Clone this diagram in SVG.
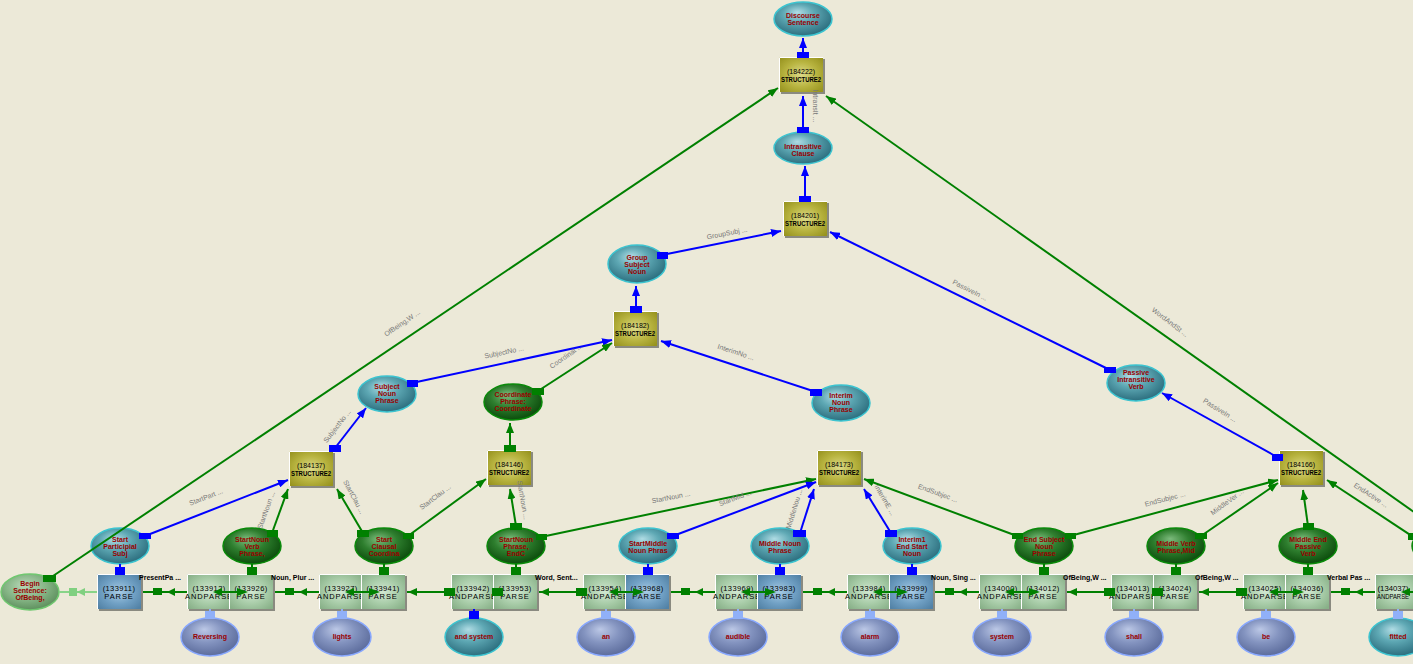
<svg xmlns="http://www.w3.org/2000/svg" width="1413" height="664" viewBox="0 0 1413 664">
<defs>
<radialGradient id="gOl" cx="0.5" cy="0.5" r="0.65"><stop offset="0" stop-color="#DCDA88"/><stop offset="0.55" stop-color="#B8B440"/><stop offset="1" stop-color="#989420"/></radialGradient>
<radialGradient id="gGb" cx="0.5" cy="0.5" r="0.65"><stop offset="0" stop-color="#D2E8D2"/><stop offset="0.55" stop-color="#A8CCA8"/><stop offset="1" stop-color="#88B088"/></radialGradient>
<radialGradient id="gBb" cx="0.5" cy="0.5" r="0.65"><stop offset="0" stop-color="#A8CCE6"/><stop offset="0.55" stop-color="#70A0C4"/><stop offset="1" stop-color="#5282A6"/></radialGradient>
<radialGradient id="gTe" cx="0.45" cy="0.4" r="0.6" fx="0.4" fy="0.3"><stop offset="0" stop-color="#B0DCE4"/><stop offset="0.45" stop-color="#5EA8B4"/><stop offset="1" stop-color="#2C6E7E"/></radialGradient>
<radialGradient id="gGr" cx="0.45" cy="0.4" r="0.6" fx="0.4" fy="0.3"><stop offset="0" stop-color="#7CBA7C"/><stop offset="0.5" stop-color="#2E7E2E"/><stop offset="1" stop-color="#0C4C0C"/></radialGradient>
<radialGradient id="gWd" cx="0.45" cy="0.4" r="0.6" fx="0.4" fy="0.3"><stop offset="0" stop-color="#BCC8E6"/><stop offset="0.5" stop-color="#8494C0"/><stop offset="1" stop-color="#5C6C9C"/></radialGradient>
<radialGradient id="gLg" cx="0.45" cy="0.4" r="0.6" fx="0.4" fy="0.3"><stop offset="0" stop-color="#B8D8B8"/><stop offset="0.6" stop-color="#84B484"/><stop offset="1" stop-color="#5E905E"/></radialGradient>
<marker id="ab" markerUnits="userSpaceOnUse" markerWidth="10" markerHeight="8" refX="10" refY="4" orient="auto"><path d="M0,0 L10,4 L0,8 z" fill="#0000FF"/></marker>
<marker id="ag" markerUnits="userSpaceOnUse" markerWidth="10" markerHeight="8" refX="10" refY="4" orient="auto"><path d="M0,0 L10,4 L0,8 z" fill="#008000"/></marker>
<style>
.sh{fill:#8A8A80}
.ol{fill:url(#gOl)}
.gb{fill:url(#gGb)}
.bb{fill:url(#gBb)}
.hl{fill:none;stroke:#FFFFFF;stroke-width:1}
.te{fill:url(#gTe);stroke:#3CC4D0;stroke-width:1.5}
.gr{fill:url(#gGr);stroke:#0A8A0A;stroke-width:1.5}
.wd{fill:url(#gWd);stroke:#88A8FF;stroke-width:1.5}
.lg{fill:url(#gLg);stroke:#70C870;stroke-width:1.5}
text{font-family:"Liberation Sans",Arial,sans-serif}
.et{font-size:7px;font-weight:bold;fill:#990000;text-anchor:middle}
.s1{font-size:7px;fill:#000;text-anchor:middle}
.s2{font-size:7px;font-weight:bold;fill:#000;text-anchor:middle}
.p1{font-size:7.5px;fill:#000;text-anchor:middle;letter-spacing:0.4px}
.p2{font-size:7.5px;fill:#000;text-anchor:middle;letter-spacing:0.9px}
.pl{font-size:7px;font-weight:bold;fill:#000}
.lab{font-size:7px;fill:#777;text-anchor:middle}
.cb{fill:none;stroke:#0000FF;stroke-width:2;marker-end:url(#ab)}
.cg{fill:none;stroke:#008000;stroke-width:2;marker-end:url(#ag)}
.cgn{fill:none;stroke:#008000;stroke-width:2}
.qb{fill:#0000FF}
.qg{fill:#008000}
.ql{fill:#90B0F8}
</style>
</defs>
<rect x="0" y="0" width="1413" height="664" fill="#ECE9D8"/>

<!-- STRUCTURE2 boxes -->
<g id="s184222"><rect class="sh" x="781" y="59" width="44" height="35"/><rect class="ol" x="779" y="57" width="44" height="35"/><path class="hl" d="M779.5,92 V57.5 H823"/><text class="s1" x="801" y="74">(184222)</text><text class="s2" x="801" y="82" textLength="40" lengthAdjust="spacingAndGlyphs">STRUCTURE2</text></g>
<g id="s184201"><rect class="sh" x="785" y="203" width="44" height="35"/><rect class="ol" x="783" y="201" width="44" height="35"/><path class="hl" d="M783.5,236 V201.5 H827"/><text class="s1" x="805" y="218">(184201)</text><text class="s2" x="805" y="226" textLength="40" lengthAdjust="spacingAndGlyphs">STRUCTURE2</text></g>
<g id="s184182"><rect class="sh" x="615" y="313" width="44" height="35"/><rect class="ol" x="613" y="311" width="44" height="35"/><path class="hl" d="M613.5,346 V311.5 H657"/><text class="s1" x="635" y="328">(184182)</text><text class="s2" x="635" y="336" textLength="40" lengthAdjust="spacingAndGlyphs">STRUCTURE2</text></g>
<g id="s184173"><rect class="sh" x="819" y="452" width="44" height="35"/><rect class="ol" x="817" y="450" width="44" height="35"/><path class="hl" d="M817.5,485 V450.5 H861"/><text class="s1" x="839" y="467">(184173)</text><text class="s2" x="839" y="475" textLength="40" lengthAdjust="spacingAndGlyphs">STRUCTURE2</text></g>
<g id="s184137"><rect class="sh" x="291" y="453" width="44" height="35"/><rect class="ol" x="289" y="451" width="44" height="35"/><path class="hl" d="M289.5,486 V451.5 H333"/><text class="s1" x="311" y="468">(184137)</text><text class="s2" x="311" y="476" textLength="40" lengthAdjust="spacingAndGlyphs">STRUCTURE2</text></g>
<g id="s184146"><rect class="sh" x="489" y="452" width="44" height="35"/><rect class="ol" x="487" y="450" width="44" height="35"/><path class="hl" d="M487.5,485 V450.5 H531"/><text class="s1" x="509" y="467">(184146)</text><text class="s2" x="509" y="475" textLength="40" lengthAdjust="spacingAndGlyphs">STRUCTURE2</text></g>
<g id="s184166"><rect class="sh" x="1281" y="452" width="44" height="35"/><rect class="ol" x="1279" y="450" width="44" height="35"/><path class="hl" d="M1279.5,485 V450.5 H1323"/><text class="s1" x="1301" y="467">(184166)</text><text class="s2" x="1301" y="475" textLength="40" lengthAdjust="spacingAndGlyphs">STRUCTURE2</text></g>

<!-- upper ellipses -->
<g id="eDiscourse"><ellipse class="te" cx="803" cy="19" rx="29" ry="17"/><text class="et" x="803" y="18">Discourse</text><text class="et" x="803" y="25">Sentence</text></g>
<g id="eIntransitive"><ellipse class="te" cx="803" cy="148" rx="29" ry="16"/><text class="et" x="803" y="149">Intransitive</text><text class="et" x="803" y="156">Clause</text></g>
<g id="eGroupSubj"><ellipse class="te" cx="637" cy="264" rx="29" ry="19"/><text class="et" x="637" y="260">Group</text><text class="et" x="637" y="267">Subject</text><text class="et" x="637" y="274">Noun</text></g>
<g id="eSubjNP"><ellipse class="te" cx="387" cy="394" rx="29" ry="18"/><text class="et" x="387" y="389">Subject</text><text class="et" x="387" y="396">Noun</text><text class="et" x="387" y="403">Phrase</text></g>
<g id="eCoord"><ellipse class="gr" cx="513" cy="402" rx="29" ry="18"/><text class="et" x="513" y="397">Coordinate</text><text class="et" x="513" y="404">Phrase:</text><text class="et" x="513" y="411">Coordinate</text></g>
<g id="eInterimNP"><ellipse class="te" cx="841" cy="403" rx="29" ry="18"/><text class="et" x="841" y="398">Interim</text><text class="et" x="841" y="405">Noun</text><text class="et" x="841" y="412">Phrase</text></g>
<g id="ePassive"><ellipse class="te" cx="1136" cy="383" rx="29" ry="18"/><text class="et" x="1136" y="375">Passive</text><text class="et" x="1136" y="382">Intransitive</text><text class="et" x="1136" y="389">Verb</text></g>

<!-- lower ellipses -->
<g id="eBegin"><ellipse class="lg" cx="30" cy="592" rx="29" ry="18"/><text class="et" x="30" y="586">Begin</text><text class="et" x="30" y="593">Sentence:</text><text class="et" x="30" y="600">OfBeing,</text></g>
<g id="eStartPart"><ellipse class="te" cx="120" cy="546" rx="29" ry="18"/><text class="et" x="120" y="542">Start</text><text class="et" x="120" y="549">Participial</text><text class="et" x="120" y="556">Subj</text></g>
<g id="eStartNounVerb"><ellipse class="gr" cx="252" cy="546" rx="29" ry="18"/><text class="et" x="252" y="542">StartNoun</text><text class="et" x="252" y="549">Verb</text><text class="et" x="252" y="556">Phrase,</text></g>
<g id="eStartClausal"><ellipse class="gr" cx="384" cy="546" rx="29" ry="18"/><text class="et" x="384" y="542">Start</text><text class="et" x="384" y="549">Clausal</text><text class="et" x="384" y="556">Coordina</text></g>
<g id="eStartNounPh"><ellipse class="gr" cx="516" cy="546" rx="29" ry="18"/><text class="et" x="516" y="542">StartNoun</text><text class="et" x="516" y="549">Phrase,</text><text class="et" x="516" y="556">EndC</text></g>
<g id="eStartMiddle"><ellipse class="te" cx="648" cy="546" rx="29" ry="18"/><text class="et" x="648" y="546">StartMiddle</text><text class="et" x="648" y="553">Noun Phras</text></g>
<g id="eMiddleNoun"><ellipse class="te" cx="780" cy="546" rx="29" ry="18"/><text class="et" x="780" y="546">Middle Noun</text><text class="et" x="780" y="553">Phrase</text></g>
<g id="eInterim1"><ellipse class="te" cx="912" cy="546" rx="29" ry="18"/><text class="et" x="912" y="542">Interim1</text><text class="et" x="912" y="549">End Start</text><text class="et" x="912" y="556">Noun</text></g>
<g id="eEndSubj"><ellipse class="gr" cx="1044" cy="546" rx="29" ry="18"/><text class="et" x="1044" y="542">End Subject</text><text class="et" x="1044" y="549">Noun</text><text class="et" x="1044" y="556">Phrase</text></g>
<g id="eMiddleVerb"><ellipse class="gr" cx="1176" cy="546" rx="29" ry="18"/><text class="et" x="1176" y="546">Middle Verb</text><text class="et" x="1176" y="553">Phrase,Mid</text></g>
<g id="eMiddleEnd"><ellipse class="gr" cx="1308" cy="546" rx="29" ry="18"/><text class="et" x="1308" y="542">Middle End</text><text class="et" x="1308" y="549">Passive</text><text class="et" x="1308" y="556">Verb</text></g>
<g id="eEndActive"><ellipse class="gr" cx="1441" cy="546" rx="29" ry="18"/></g>

<!-- PARSE / ANDPARSE boxes -->
<g id="p133911"><rect class="sh" x="99" y="576" width="44" height="35"/><rect class="bb" x="97" y="574" width="44" height="35"/><path class="hl" d="M97.5,609 V574.5 H141"/><text class="p1" x="119" y="591">(133911)</text><text class="p2" x="119" y="599">PARSE</text></g>
<g id="a133912"><rect class="sh" x="189" y="576" width="44" height="35"/><rect class="gb" x="187" y="574" width="44" height="35"/><path class="hl" d="M187.5,609 V574.5 H231"/><text class="p1" x="209" y="591">(133912)</text><text class="p2" x="209" y="599">ANDPARSE</text></g>
<g id="p133926"><rect class="sh" x="231" y="576" width="44" height="35"/><rect class="gb" x="229" y="574" width="44" height="35"/><path class="hl" d="M229.5,609 V574.5 H273"/><text class="p1" x="251" y="591">(133926)</text><text class="p2" x="251" y="599">PARSE</text></g>
<g id="a133927"><rect class="sh" x="321" y="576" width="44" height="35"/><rect class="gb" x="319" y="574" width="44" height="35"/><path class="hl" d="M319.5,609 V574.5 H363"/><text class="p1" x="341" y="591">(133927)</text><text class="p2" x="341" y="599">ANDPARSE</text></g>
<g id="p133941"><rect class="sh" x="363" y="576" width="44" height="35"/><rect class="gb" x="361" y="574" width="44" height="35"/><path class="hl" d="M361.5,609 V574.5 H405"/><text class="p1" x="383" y="591">(133941)</text><text class="p2" x="383" y="599">PARSE</text></g>
<g id="a133942"><rect class="sh" x="453" y="576" width="44" height="35"/><rect class="gb" x="451" y="574" width="44" height="35"/><path class="hl" d="M451.5,609 V574.5 H495"/><text class="p1" x="473" y="591">(133942)</text><text class="p2" x="473" y="599">ANDPARSE</text></g>
<g id="p133953"><rect class="sh" x="495" y="576" width="44" height="35"/><rect class="gb" x="493" y="574" width="44" height="35"/><path class="hl" d="M493.5,609 V574.5 H537"/><text class="p1" x="515" y="591">(133953)</text><text class="p2" x="515" y="599">PARSE</text></g>
<g id="a133954"><rect class="sh" x="585" y="576" width="44" height="35"/><rect class="gb" x="583" y="574" width="44" height="35"/><path class="hl" d="M583.5,609 V574.5 H627"/><text class="p1" x="605" y="591">(133954)</text><text class="p2" x="605" y="599">ANDPARSE</text></g>
<g id="p133968"><rect class="sh" x="627" y="576" width="44" height="35"/><rect class="bb" x="625" y="574" width="44" height="35"/><path class="hl" d="M625.5,609 V574.5 H669"/><text class="p1" x="647" y="591">(133968)</text><text class="p2" x="647" y="599">PARSE</text></g>
<g id="a133969"><rect class="sh" x="717" y="576" width="44" height="35"/><rect class="gb" x="715" y="574" width="44" height="35"/><path class="hl" d="M715.5,609 V574.5 H759"/><text class="p1" x="737" y="591">(133969)</text><text class="p2" x="737" y="599">ANDPARSE</text></g>
<g id="p133983"><rect class="sh" x="759" y="576" width="44" height="35"/><rect class="bb" x="757" y="574" width="44" height="35"/><path class="hl" d="M757.5,609 V574.5 H801"/><text class="p1" x="779" y="591">(133983)</text><text class="p2" x="779" y="599">PARSE</text></g>
<g id="a133984"><rect class="sh" x="849" y="576" width="44" height="35"/><rect class="gb" x="847" y="574" width="44" height="35"/><path class="hl" d="M847.5,609 V574.5 H891"/><text class="p1" x="869" y="591">(133984)</text><text class="p2" x="869" y="599">ANDPARSE</text></g>
<g id="p133999"><rect class="sh" x="891" y="576" width="44" height="35"/><rect class="bb" x="889" y="574" width="44" height="35"/><path class="hl" d="M889.5,609 V574.5 H933"/><text class="p1" x="911" y="591">(133999)</text><text class="p2" x="911" y="599">PARSE</text></g>
<g id="a134000"><rect class="sh" x="981" y="576" width="44" height="35"/><rect class="gb" x="979" y="574" width="44" height="35"/><path class="hl" d="M979.5,609 V574.5 H1023"/><text class="p1" x="1001" y="591">(134000)</text><text class="p2" x="1001" y="599">ANDPARSE</text></g>
<g id="p134012"><rect class="sh" x="1023" y="576" width="44" height="35"/><rect class="gb" x="1021" y="574" width="44" height="35"/><path class="hl" d="M1021.5,609 V574.5 H1065"/><text class="p1" x="1043" y="591">(134012)</text><text class="p2" x="1043" y="599">PARSE</text></g>
<g id="a134013"><rect class="sh" x="1113" y="576" width="44" height="35"/><rect class="gb" x="1111" y="574" width="44" height="35"/><path class="hl" d="M1111.5,609 V574.5 H1155"/><text class="p1" x="1133" y="591">(134013)</text><text class="p2" x="1133" y="599">ANDPARSE</text></g>
<g id="p134024"><rect class="sh" x="1155" y="576" width="44" height="35"/><rect class="gb" x="1153" y="574" width="44" height="35"/><path class="hl" d="M1153.5,609 V574.5 H1197"/><text class="p1" x="1175" y="591">(134024)</text><text class="p2" x="1175" y="599">PARSE</text></g>
<g id="a134025"><rect class="sh" x="1245" y="576" width="44" height="35"/><rect class="gb" x="1243" y="574" width="44" height="35"/><path class="hl" d="M1243.5,609 V574.5 H1287"/><text class="p1" x="1265" y="591">(134025)</text><text class="p2" x="1265" y="599">ANDPARSE</text></g>
<g id="p134036"><rect class="sh" x="1287" y="576" width="44" height="35"/><rect class="gb" x="1285" y="574" width="44" height="35"/><path class="hl" d="M1285.5,609 V574.5 H1329"/><text class="p1" x="1307" y="591">(134036)</text><text class="p2" x="1307" y="599">PARSE</text></g>
<g id="a134037"><rect class="sh" x="1377" y="576" width="44" height="35"/><rect class="gb" x="1375" y="574" width="44" height="35"/><path class="hl" d="M1375.5,609 V574.5 H1419"/><text class="s1" x="1393" y="591" textLength="31" lengthAdjust="spacingAndGlyphs">(134037)</text><text class="s1" x="1393" y="599" textLength="32" lengthAdjust="spacingAndGlyphs">ANDPARSE</text></g>

<!-- word ellipses -->
<g id="wReversing"><ellipse class="wd" cx="210" cy="637" rx="29" ry="19"/><text class="et" x="210" y="639">Reversing</text></g>
<g id="wLights"><ellipse class="wd" cx="342" cy="637" rx="29" ry="19"/><text class="et" x="342" y="639">lights</text></g>
<g id="wAndSystem"><ellipse class="te" cx="474" cy="637" rx="29" ry="19"/><text class="et" x="474" y="639">and  system</text></g>
<g id="wAn"><ellipse class="wd" cx="606" cy="637" rx="29" ry="19"/><text class="et" x="606" y="639">an</text></g>
<g id="wAudible"><ellipse class="wd" cx="738" cy="637" rx="29" ry="19"/><text class="et" x="738" y="639">audible</text></g>
<g id="wAlarm"><ellipse class="wd" cx="870" cy="637" rx="29" ry="19"/><text class="et" x="870" y="639">alarm</text></g>
<g id="wSystem"><ellipse class="wd" cx="1002" cy="637" rx="29" ry="19"/><text class="et" x="1002" y="639">system</text></g>
<g id="wShall"><ellipse class="wd" cx="1134" cy="637" rx="29" ry="19"/><text class="et" x="1134" y="639">shall</text></g>
<g id="wBe"><ellipse class="wd" cx="1266" cy="637" rx="29" ry="19"/><text class="et" x="1266" y="639">be</text></g>
<g id="wFitted"><ellipse class="te" cx="1398" cy="637" rx="29" ry="19"/><text class="et" x="1398" y="639">fitted</text></g>

<!-- connectors -->
<g id="connectors">
<path class="cb" d="M803,55 V38"/><rect class="qb" x="797" y="52" width="12" height="6"/>
<path class="cb" d="M803,129 V96"/><rect class="qb" x="797" y="127" width="12" height="6"/>
<path class="cb" d="M805,198 V166"/><rect class="qb" x="799" y="196" width="12" height="6"/>
<path class="cb" d="M662,255 L781,231"/><rect class="qb" x="657" y="252" width="11" height="7"/>
<path class="cb" d="M1110,370 L830,232"/><rect class="qb" x="1104" y="367" width="12" height="6"/>
<path class="cb" d="M412,383 L612,340"/><rect class="qb" x="407" y="380" width="11" height="7"/>
<path class="cg" d="M538,391 L612,343"/><rect class="qg" x="532" y="388" width="12" height="7"/>
<path class="cb" d="M816,392 L661,341"/><rect class="qb" x="810" y="389" width="12" height="7"/>
<path class="cb" d="M636,309 V286"/><rect class="qb" x="630" y="306" width="12" height="7"/>
<path class="cb" d="M335,448 L366,408"/><rect class="qb" x="329" y="445" width="12" height="7"/>
<path class="cg" d="M510,448 V423"/><rect class="qg" x="504" y="445" width="12" height="7"/>
<path class="cb" d="M145,536 L288,480"/><rect class="qb" x="139" y="533" width="12" height="6"/>
<path class="cg" d="M272,533 L288,489"/><rect class="qg" x="267" y="530" width="11" height="7"/>
<path class="cg" d="M363,533 L337,489"/><rect class="qg" x="357" y="530" width="12" height="7"/>
<path class="cg" d="M408,536 L486,479"/><rect class="qg" x="403" y="533" width="11" height="6"/>
<path class="cg" d="M516,526 L510,489"/><rect class="qg" x="510" y="523" width="12" height="7"/>
<path class="cg" d="M541,537 L816,479"/><rect class="qg" x="536" y="534" width="11" height="6"/>
<path class="cb" d="M673,536 L816,482"/><rect class="qb" x="667" y="533" width="12" height="6"/>
<path class="cb" d="M800,533 L814,489"/><rect class="qb" x="793" y="530" width="13" height="7"/>
<path class="cb" d="M891,533 L864,489"/><rect class="qb" x="885" y="530" width="12" height="7"/>
<path class="cg" d="M1017,536 L864,479"/><rect class="qg" x="1012" y="533" width="11" height="6"/>
<path class="cg" d="M1070,536 L1278,480"/><rect class="qg" x="1065" y="533" width="11" height="6"/>
<path class="cg" d="M1201,536 L1278,483"/><rect class="qg" x="1195" y="533" width="12" height="6"/>
<path class="cg" d="M1308,526 L1303,490"/><rect class="qg" x="1303" y="523" width="11" height="7"/>
<path class="cg" d="M1418,540 L1327,480"/><rect class="qg" x="1408" y="533" width="11" height="7"/>
<path class="cb" d="M1277,457 L1162,393"/><rect class="qb" x="1272" y="454" width="11" height="7"/>
<path class="cg" d="M50,578 L778,88"/><rect class="qg" x="43" y="575" width="13" height="7"/>
<path class="cg" d="M1445,534 L826,96"/>

<!-- ellipse to parse -->
<path d="M120,564 V574" stroke="#0000FF" stroke-width="2"/><rect class="qb" x="115" y="567" width="10" height="8"/>
<path d="M252,564 V574" stroke="#008000" stroke-width="2"/><rect class="qg" x="247" y="567" width="10" height="8"/>
<path d="M384,564 V574" stroke="#008000" stroke-width="2"/><rect class="qg" x="379" y="567" width="10" height="8"/>
<path d="M516,564 V574" stroke="#008000" stroke-width="2"/><rect class="qg" x="511" y="567" width="10" height="8"/>
<path d="M648,564 V574" stroke="#0000FF" stroke-width="2"/><rect class="qb" x="643" y="567" width="10" height="8"/>
<path d="M780,564 V574" stroke="#0000FF" stroke-width="2"/><rect class="qb" x="775" y="567" width="10" height="8"/>
<path d="M912,564 V574" stroke="#0000FF" stroke-width="2"/><rect class="qb" x="907" y="567" width="10" height="8"/>
<path d="M1044,564 V574" stroke="#008000" stroke-width="2"/><rect class="qg" x="1039" y="567" width="10" height="8"/>
<path d="M1176,564 V574" stroke="#008000" stroke-width="2"/><rect class="qg" x="1171" y="567" width="10" height="8"/>
<path d="M1308,564 V574" stroke="#008000" stroke-width="2"/><rect class="qg" x="1303" y="567" width="10" height="8"/>

<!-- word to andparse -->
<path d="M210,609 V619" stroke="#90B0F8" stroke-width="2"/><rect class="ql" x="205" y="611" width="10" height="8"/>
<path d="M342,609 V619" stroke="#90B0F8" stroke-width="2"/><rect class="ql" x="337" y="611" width="10" height="8"/>
<path d="M474,609 V619" stroke="#0000FF" stroke-width="2"/><rect class="qb" x="469" y="611" width="10" height="8"/>
<path d="M606,609 V619" stroke="#90B0F8" stroke-width="2"/><rect class="ql" x="601" y="611" width="10" height="8"/>
<path d="M738,609 V619" stroke="#90B0F8" stroke-width="2"/><rect class="ql" x="733" y="611" width="10" height="8"/>
<path d="M870,609 V619" stroke="#90B0F8" stroke-width="2"/><rect class="ql" x="865" y="611" width="10" height="8"/>
<path d="M1002,609 V619" stroke="#90B0F8" stroke-width="2"/><rect class="ql" x="997" y="611" width="10" height="8"/>
<path d="M1134,609 V619" stroke="#90B0F8" stroke-width="2"/><rect class="ql" x="1129" y="611" width="10" height="8"/>
<path d="M1266,609 V619" stroke="#90B0F8" stroke-width="2"/><rect class="ql" x="1261" y="611" width="10" height="8"/>
<path d="M1398,609 V619" stroke="#90B0F8" stroke-width="2"/><rect class="ql" x="1393" y="611" width="10" height="8"/>

<!-- chain -->
<path d="M59,592 H97" stroke="#88D488" stroke-width="2"/><rect x="69" y="588" width="8" height="8" fill="#80D080"/><path d="M77,592 L85,588 V596 z" fill="#80D080"/>
<g fill="#008000">
<path class="cgn" d="M143,592 H187"/><rect x="153" y="588" width="9" height="7"/><path d="M167,592 L175,588 V596 z"/>
<path class="cgn" d="M275,592 H319"/><rect x="285" y="588" width="9" height="7"/><path d="M299,592 L307,588 V596 z"/>
<path class="cgn" d="M671,592 H715"/><rect x="681" y="588" width="9" height="7"/><path d="M695,592 L703,588 V596 z"/>
<path class="cgn" d="M803,592 H847"/><rect x="813" y="588" width="9" height="7"/><path d="M827,592 L835,588 V596 z"/>
<path class="cgn" d="M935,592 H979"/><rect x="945" y="588" width="9" height="7"/><path d="M959,592 L967,588 V596 z"/>
<path class="cgn" d="M1331,592 H1375"/><rect x="1341" y="588" width="9" height="7"/><path d="M1355,592 L1363,588 V596 z"/>
<path class="cgn" d="M407,592 H451"/><path d="M408,592 L417,588 V596 z"/><rect x="444" y="588" width="11" height="8"/>
<path class="cgn" d="M539,592 H583"/><path d="M540,592 L549,588 V596 z"/><rect x="576" y="588" width="11" height="8"/>
<path class="cgn" d="M1067,592 H1111"/><path d="M1068,592 L1077,588 V596 z"/><rect x="1104" y="588" width="11" height="8"/>
<path class="cgn" d="M1199,592 H1243"/><path d="M1200,592 L1209,588 V596 z"/><rect x="1236" y="588" width="11" height="8"/>
<path class="cgn" d="M222,592 H237"/><path d="M213,592 L222,588 V596 z"/><path d="M248,592 L237,588 V596 z"/>
<path class="cgn" d="M354,592 H369"/><path d="M345,592 L354,588 V596 z"/><path d="M380,592 L369,588 V596 z"/>
<path class="cgn" d="M618,592 H633"/><path d="M609,592 L618,588 V596 z"/><path d="M644,592 L633,588 V596 z"/>
<path class="cgn" d="M750,592 H765"/><path d="M741,592 L750,588 V596 z"/><path d="M776,592 L765,588 V596 z"/>
<path class="cgn" d="M882,592 H897"/><path d="M873,592 L882,588 V596 z"/><path d="M908,592 L897,588 V596 z"/>
<path class="cgn" d="M1014,592 H1029"/><path d="M1005,592 L1014,588 V596 z"/><path d="M1040,592 L1029,588 V596 z"/>
<path class="cgn" d="M1278,592 H1293"/><path d="M1269,592 L1278,588 V596 z"/><path d="M1304,592 L1293,588 V596 z"/>
<path class="cgn" d="M1410,592 H1425"/><path d="M1401,592 L1410,588 V596 z"/>
<rect x="492" y="588" width="11" height="8"/>
<rect x="1152" y="588" width="11" height="8"/>
</g>

<!-- connector labels -->
<text class="lab" transform="translate(815,106) rotate(90)" dy="2.5">IntransIt ...</text>
<text class="lab" transform="translate(727,233) rotate(-11)" dy="2.5">GroupSubj ...</text>
<text class="lab" transform="translate(970,290) rotate(27)" dy="2.5">PassiveIn ...</text>
<text class="lab" transform="translate(504,352) rotate(-12)" dy="2.5">SubjectNo ...</text>
<text class="lab" transform="translate(566,356) rotate(-35)" dy="2.5">Coordinat ...</text>
<text class="lab" transform="translate(736,352) rotate(18)" dy="2.5">InterimNo ...</text>
<text class="lab" transform="translate(337,426) rotate(-52)" dy="2.5">SubjectNo ...</text>
<text class="lab" transform="translate(206,497) rotate(-21)" dy="2.5">StartPart ...</text>
<text class="lab" transform="translate(266,510) rotate(-70)" dy="2.5">StartNoun ...</text>
<text class="lab" transform="translate(354,497) rotate(62)" dy="2.5">StartClau ...</text>
<text class="lab" transform="translate(435,497) rotate(-37)" dy="2.5">StartClau ...</text>
<text class="lab" transform="translate(523,500) rotate(80)" dy="2.5">StartNoun ...</text>
<text class="lab" transform="translate(671,497) rotate(-11)" dy="2.5">StartNoun ...</text>
<text class="lab" transform="translate(735,498) rotate(-20)" dy="2.5">StartMid ...</text>
<text class="lab" transform="translate(794,509) rotate(-73)" dy="2.5">MiddleNou ...</text>
<text class="lab" transform="translate(885,500) rotate(60)" dy="2.5">InterimE ...</text>
<text class="lab" transform="translate(938,493) rotate(20)" dy="2.5">EndSubjec ...</text>
<text class="lab" transform="translate(1165,499) rotate(-15)" dy="2.5">EndSubjec ...</text>
<text class="lab" transform="translate(1227,502) rotate(-36)" dy="2.5">MiddleVer ...</text>
<text class="lab" transform="translate(1371,495) rotate(33)" dy="2.5">EndActive ...</text>
<text class="lab" transform="translate(1220,410) rotate(32)" dy="2.5">PassiveIn ...</text>
<text class="lab" transform="translate(1170,322) rotate(37)" dy="2.5">WordAndSt ...</text>
<text class="lab" transform="translate(402,323) rotate(-34)" dy="2.5">OfBeing,W ...</text>

<!-- parse labels -->
<text class="pl" x="139" y="580">PresentPa ...</text>
<text class="pl" x="271" y="580">Noun, Plur ...</text>
<text class="pl" x="535" y="580">Word, Sent...</text>
<text class="pl" x="931" y="580">Noun, Sing ...</text>
<text class="pl" x="1063" y="580">OfBeing,W ...</text>
<text class="pl" x="1195" y="580">OfBeing,W ...</text>
<text class="pl" x="1327" y="580">Verbal Pas ...</text>
</g>
</svg>
